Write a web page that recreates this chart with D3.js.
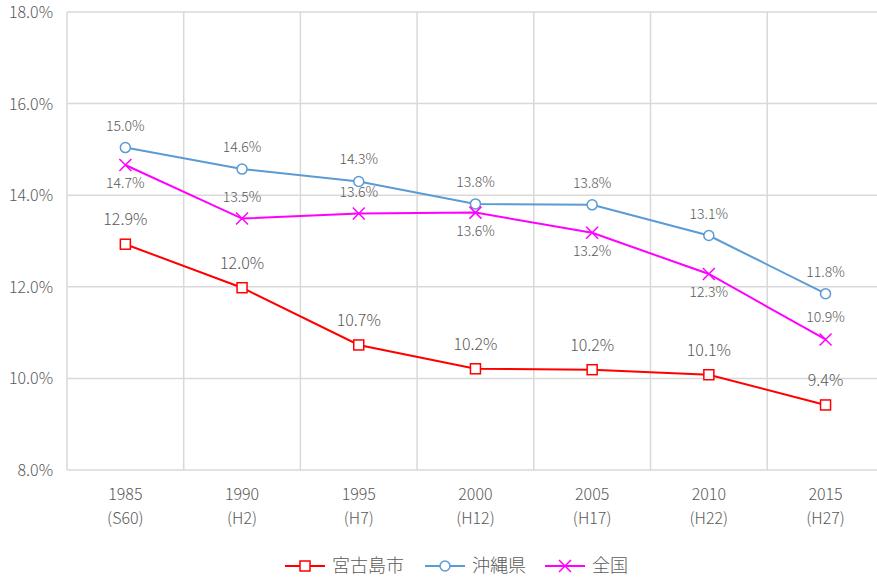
<!DOCTYPE html>
<html>
<head>
<meta charset="utf-8">
<script src="https://cdn.jsdelivr.net/npm/d3@7"></script>
<style>
  body { margin: 0; background: #fff; }
  text { font-family: "Noto Sans CJK JP", "DejaVu Sans", sans-serif; fill: #595959; font-weight: 300; }
</style>
</head>
<body>
<div id="chart"></div>
<script>
// Chart data
var years = ["1985", "1990", "1995", "2000", "2005", "2010", "2015"];
var eras = ["(S60)", "(H2)", "(H7)", "(H12)", "(H17)", "(H22)", "(H27)"];
var miyako = [12.93, 11.98, 10.73, 10.21, 10.19, 10.08, 9.42];
var okinawa = [15.04, 14.57, 14.30, 13.81, 13.79, 13.12, 11.85];
var zenkoku = [14.66, 13.49, 13.60, 13.62, 13.18, 12.28, 10.85];
var miyakoLabels = ["12.9%", "12.0%", "10.7%", "10.2%", "10.2%", "10.1%", "9.4%"];
var okinawaLabels = ["15.0%", "14.6%", "14.3%", "13.8%", "13.8%", "13.1%", "11.8%"];
var zenkokuLabels = ["14.7%", "13.5%", "13.6%", "13.6%", "13.2%", "12.3%", "10.9%"];
var zenkokuBelow = [true, false, false, true, true, true, false];
var yTicks = [8, 10, 12, 14, 16, 18];
var seriesNames = ["宮古島市", "沖縄県", "全国"];

var w = 877;
var h = 577;
var plotLeft = 67, plotTop = 12, plotBottom = 470;
var band = 116.7;

function createLine(svg, values, xScale, yScale, color) {
  var line = d3.line()
    .x(function(d, i) { return xScale(years[i]) + xScale.bandwidth() / 2; })
    .y(function(d) { return yScale(d); });
  svg.append("path")
    .datum(values)
    .attr("fill", "none")
    .attr("stroke", color)
    .attr("stroke-width", 2)
    .attr("d", line);
}

function drawMarker(g, type, x, y, color) {
  if (type === "square") {
    g.append("rect")
      .attr("x", x - 5).attr("y", y - 5)
      .attr("width", 10).attr("height", 10)
      .attr("fill", "#fff").attr("stroke", color).attr("stroke-width", 1.5);
  } else if (type === "circle") {
    g.append("circle")
      .attr("cx", x).attr("cy", y).attr("r", 5)
      .attr("fill", "#fff").attr("stroke", color).attr("stroke-width", 1.5);
  } else {
    g.append("path")
      .attr("d", "M" + (x - 6) + "," + (y - 6) + "L" + (x + 6) + "," + (y + 6) +
        "M" + (x + 6) + "," + (y - 6) + "L" + (x - 6) + "," + (y + 6))
      .attr("stroke", color).attr("stroke-width", 1.5).attr("fill", "none");
  }
}

function createPoints(svg, values, labels, below, xScale, yScale, color, type, size, gap) {
  values.forEach(function(v, i) {
    var x = xScale(years[i]) + xScale.bandwidth() / 2;
    var y = yScale(v);
    drawMarker(svg, type, x, y, color);
    svg.append("text")
      .attr("x", x)
      .attr("y", below[i] ? y + 23 : y - gap)
      .attr("text-anchor", "middle")
      .attr("font-size", size)
      .text(labels[i]);
  });
}

function main() {
  var svg = d3.select("#chart")
    .append("svg")
    .attr("width", w)
    .attr("height", h);

  var xScale = d3.scaleBand()
    .domain(years)
    .range([plotLeft, plotLeft + band * years.length]);

  var yScale = d3.scaleLinear()
    .domain([8, 18])
    .range([plotBottom, plotTop]);

  // gridlines
  svg.selectAll(".hgrid")
    .data(yTicks)
    .enter()
    .append("line")
    .attr("x1", plotLeft)
    .attr("x2", w)
    .attr("y1", function(d) { return yScale(d); })
    .attr("y2", function(d) { return yScale(d); })
    .attr("stroke", "#d9d9d9")
    .attr("stroke-width", 1.5);

  svg.selectAll(".vgrid")
    .data(years)
    .enter()
    .append("line")
    .attr("x1", function(d) { return xScale(d); })
    .attr("x2", function(d) { return xScale(d); })
    .attr("y1", plotTop)
    .attr("y2", plotBottom)
    .attr("stroke", "#d9d9d9")
    .attr("stroke-width", 1.5);

  // y axis labels
  svg.selectAll(".ylab")
    .data(yTicks)
    .enter()
    .append("text")
    .attr("x", 53)
    .attr("y", function(d) { return yScale(d) + 6; })
    .attr("text-anchor", "end")
    .attr("font-size", "16px")
    .text(function(d) { return d.toFixed(1) + "%"; });

  // x axis labels
  years.forEach(function(d, i) {
    var x = xScale(d) + xScale.bandwidth() / 2;
    svg.append("text")
      .attr("x", x).attr("y", 500)
      .attr("text-anchor", "middle")
      .attr("font-size", "16px")
      .text(d);
    svg.append("text")
      .attr("x", x).attr("y", 524)
      .attr("text-anchor", "middle")
      .attr("font-size", "16px")
      .text(eras[i]);
  });

  createLine(svg, okinawa, xScale, yScale, "#5b9bd5");
  createLine(svg, zenkoku, xScale, yScale, "#ff00ff");
  createLine(svg, miyako, xScale, yScale, "#ff0000");

  createPoints(svg, okinawa, okinawaLabels, okinawa.map(function() { return false; }), xScale, yScale, "#5b9bd5", "circle", "14px", 17);
  createPoints(svg, zenkoku, zenkokuLabels, zenkokuBelow, xScale, yScale, "#ff00ff", "x", "14px", 17);
  createPoints(svg, miyako, miyakoLabels, miyako.map(function() { return false; }), xScale, yScale, "#ff0000", "square", "16px", 19);

  // legend
  var legendX = [285, 425, 545];
  var colors = ["#ff0000", "#5b9bd5", "#ff00ff"];
  var types = ["square", "circle", "x"];
  seriesNames.forEach(function(name, i) {
    var g = svg.append("g");
    g.append("line")
      .attr("x1", legendX[i]).attr("x2", legendX[i] + 40)
      .attr("y1", 566).attr("y2", 566)
      .attr("stroke", colors[i]).attr("stroke-width", 2);
    drawMarker(g, types[i], legendX[i] + 20, 566, colors[i]);
    g.append("text")
      .attr("x", legendX[i] + 47)
      .attr("y", 572)
      .attr("font-size", "18px")
      .text(name);
  });
}

window.onload = function() {
  main();
};
</script>
</body>
</html>
